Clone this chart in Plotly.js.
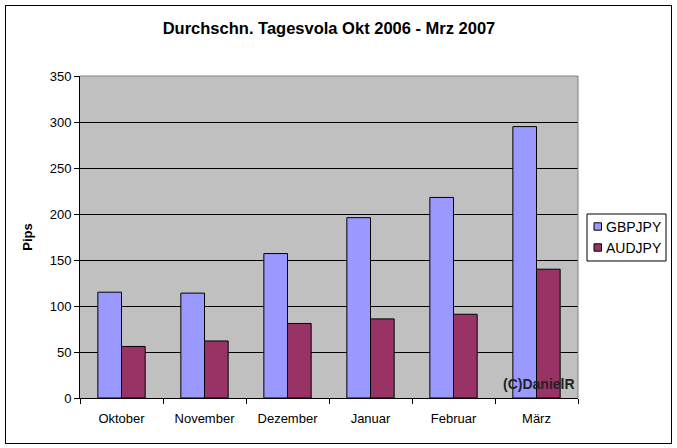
<!DOCTYPE html>
<html>
<head>
<meta charset="utf-8">
<script src="https://cdn.plot.ly/plotly-3.0.1.min.js"></script>
<style>
  body { margin: 0; background: #fff; }
  #frame {
    position: absolute; left: 5px; top: 5px;
    width: 667px; height: 439px;
    border: 1px solid #000; box-sizing: border-box;
  }
  #chart { width: 665px; height: 437px; }
</style>
</head>
<body>
<div id="frame"><div id="chart"></div></div>
<script>
const months = ["Oktober", "November", "Dezember", "Januar", "Februar", "März"];
const gbpjpy = [115, 114, 157, 196, 218, 295];
const audjpy = [56, 62, 81, 86, 91, 140];
const seriesNames = ["GBPJPY", "AUDJPY"];
const seriesColors = ["#9999FF", "#993366"];

const font = "Liberation Sans, Arial, sans-serif";

const traces = [gbpjpy, audjpy].map((vals, i) => ({
  x: months, y: vals, name: seriesNames[i], type: "bar",
  marker: { color: seriesColors[i], line: { color: "#000", width: 1 } },
}));

// plot area is 498 x 322 px, legend is drawn by hand because the
// built-in one is too wide for the space on the right
const pw = 498, ph = 322;
const px = (p) => p / pw;          // px offset from plot left -> paper x
const py = (p) => 1 - p / ph;      // px offset from plot top  -> paper y

const legendShapes = [
  { type: "rect", xref: "paper", yref: "paper",
    x0: px(507), x1: px(586), y0: py(138), y1: py(185),
    fillcolor: "#fff", line: { color: "#000", width: 1 } },
];
const legendNotes = [];
seriesNames.forEach((name, i) => {
  const cy = 150.5 + i * 21;
  legendShapes.push({
    type: "rect", xref: "paper", yref: "paper",
    x0: px(514), x1: px(521.5), y0: py(cy + 3.7), y1: py(cy - 3.7),
    fillcolor: seriesColors[i], line: { color: "#000", width: 1 },
  });
  legendNotes.push({
    text: name, xref: "paper", yref: "paper",
    x: px(524), y: py(cy), xanchor: "left", yanchor: "middle",
    showarrow: false, font: { family: font, size: 14, color: "#000" },
  });
});

const layout = {
  width: 665,
  height: 437,
  paper_bgcolor: "#fff",
  plot_bgcolor: "#C0C0C0",
  font: { family: font, size: 13, color: "#000" },
  margin: { l: 74, r: 93, t: 70, b: 45, autoexpand: false },
  barmode: "group",
  bargap: 0.43,
  bargroupgap: 0,
  showlegend: false,
  title: {
    text: "<b>Durchschn. Tagesvola Okt 2006 - Mrz 2007</b>",
    font: { family: font, size: 16.5, color: "#000" },
    x: 0.5, xref: "paper", xanchor: "center",
    y: 0.948, yanchor: "middle",
  },
  xaxis: {
    type: "category",
    tickson: "boundaries",
    ticks: "outside", ticklen: 5, tickcolor: "#000", tickwidth: 1,
    ticklabelstandoff: 8,
    showline: true, linecolor: "#000", linewidth: 1,
    showgrid: false,
    tickfont: { family: font, size: 13 },
  },
  yaxis: {
    range: [0, 350],
    dtick: 50,
    ticks: "outside", ticklen: 5, tickcolor: "#000", tickwidth: 1,
    showline: true, linecolor: "#000", linewidth: 1,
    showgrid: true, gridcolor: "#000", gridwidth: 1,
    zeroline: false,
    tickfont: { family: font, size: 13 },
    title: { text: "<b>Pips</b>", font: { family: font, size: 13 }, standoff: 14 },
  },
  shapes: [
    // grey frame at top and right of the plot area
    { type: "line", xref: "paper", yref: "paper", x0: 0, x1: 1, y0: 1, y1: 1,
      line: { color: "#808080", width: 1 } },
    { type: "line", xref: "paper", yref: "paper", x0: 1, x1: 1, y0: 0, y1: 1,
      line: { color: "#808080", width: 1 } },
    ...legendShapes,
  ],
  annotations: [
    {
      text: "<b>(C)DanielR</b>",
      xref: "paper", yref: "paper",
      x: 0.997, y: 0.042, xanchor: "right", yanchor: "middle",
      showarrow: false,
      font: { family: font, size: 14, color: "#222" },
    },
    ...legendNotes,
  ],
};

Plotly.newPlot("chart", traces, layout, { displayModeBar: false, staticPlot: true });
</script>
</body>
</html>
